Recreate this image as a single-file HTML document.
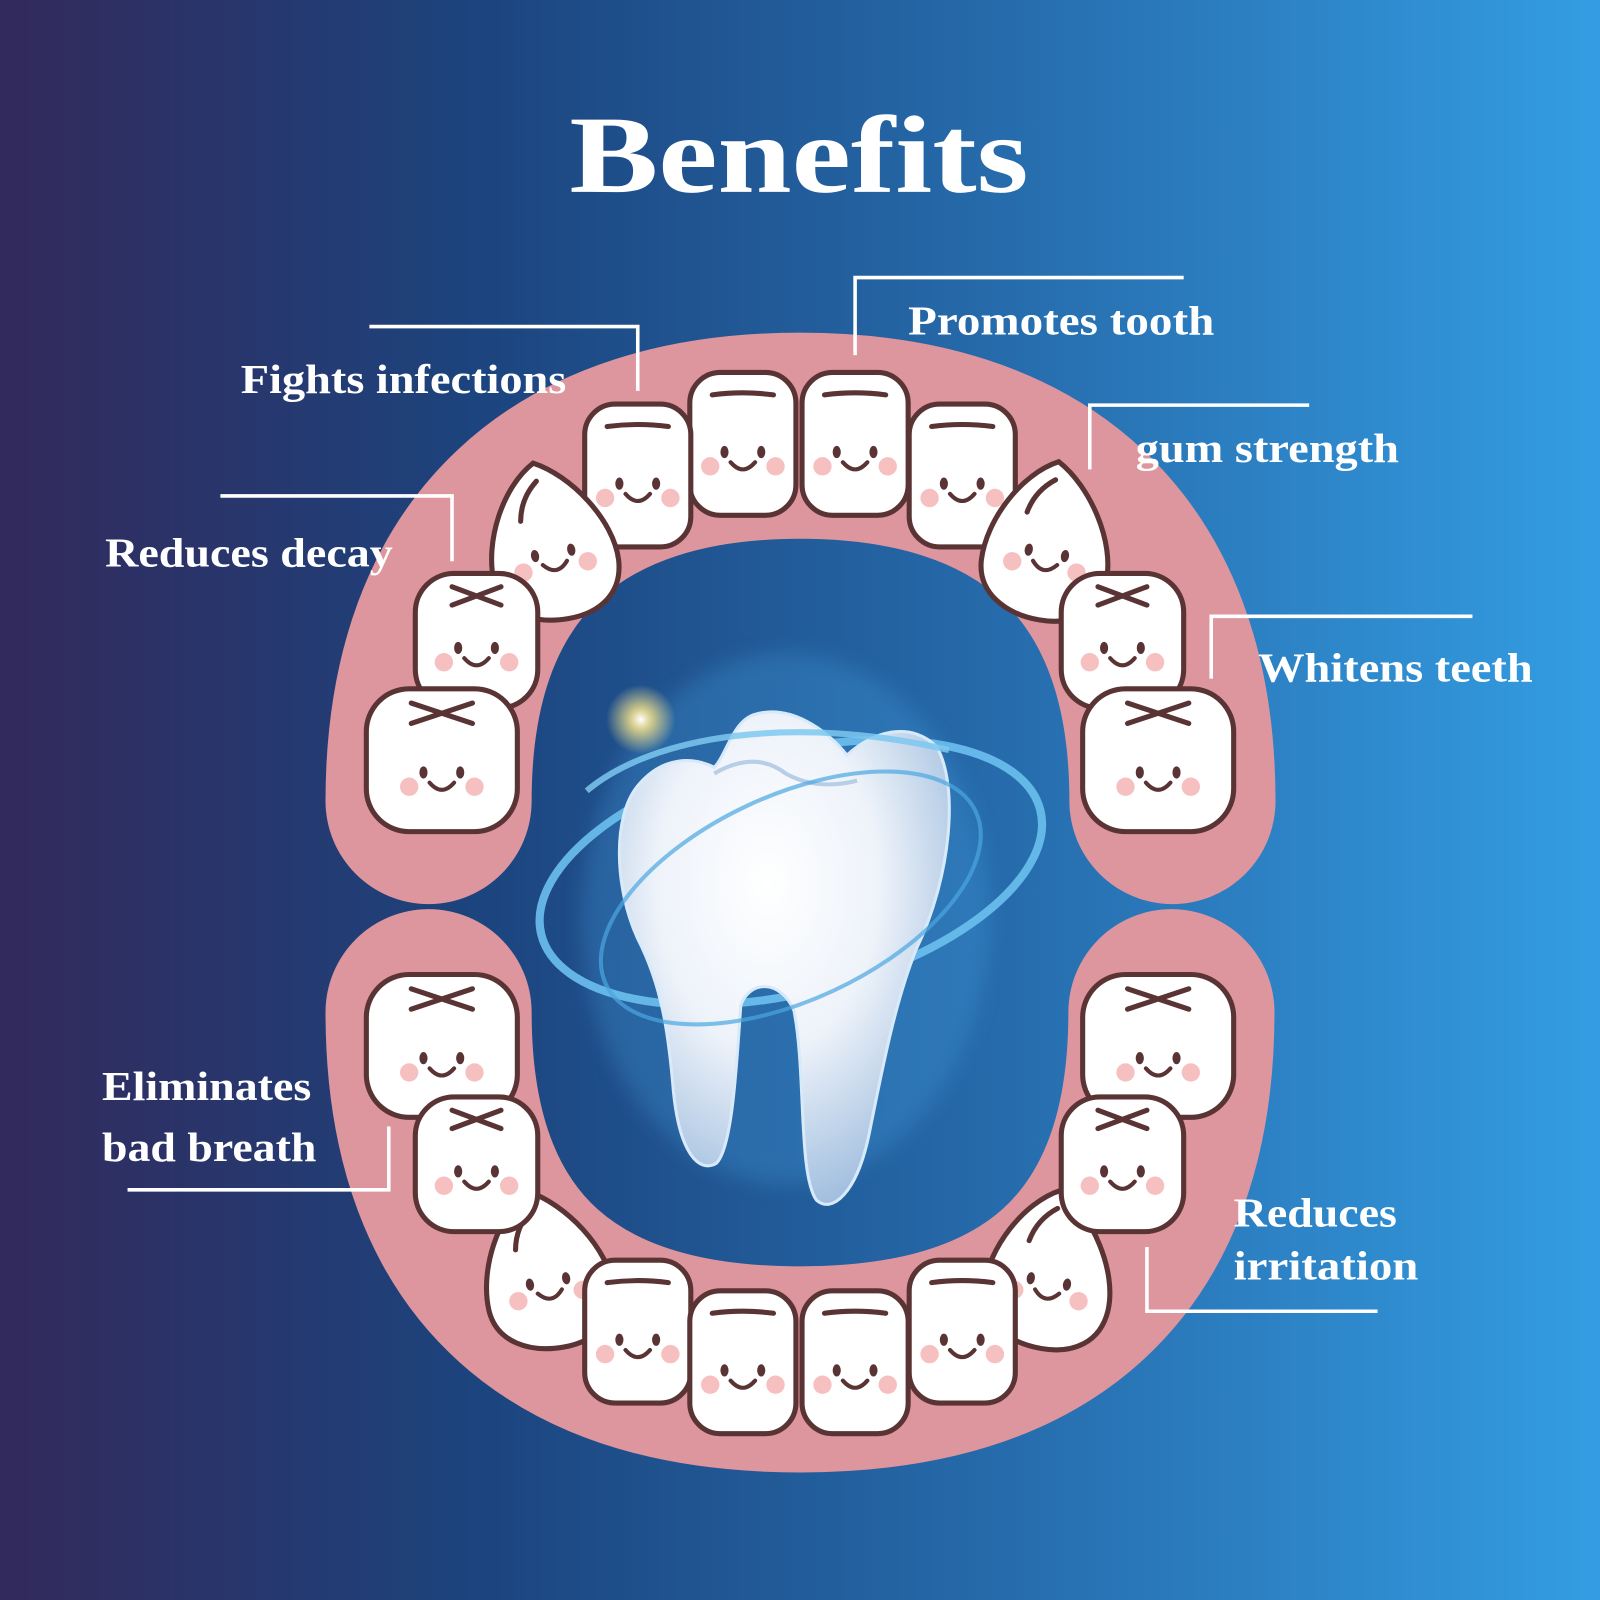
<!DOCTYPE html>
<html><head><meta charset="utf-8"><style>html,body{margin:0;padding:0;width:1600px;height:1600px;overflow:hidden}svg{display:block}</style></head>
<body>
<svg width="1600" height="1600" viewBox="0 0 1568 1568" xmlns="http://www.w3.org/2000/svg">
<defs>
<linearGradient id="bg" x1="0" y1="0" x2="1" y2="0">
<stop offset="0" stop-color="#33295b"/><stop offset="0.3" stop-color="#1c447e"/><stop offset="0.6" stop-color="#2568a8"/><stop offset="1" stop-color="#349de2"/>
</linearGradient>
<radialGradient id="tg" cx="0.45" cy="0.35" r="0.75">
<stop offset="0" stop-color="#ffffff"/><stop offset="0.45" stop-color="#eef3fa"/><stop offset="1" stop-color="#8fb2d8"/>
</radialGradient>
<radialGradient id="glow" cx="0.5" cy="0.5" r="0.5">
<stop offset="0" stop-color="#ffffff"/><stop offset="0.3" stop-color="#ffe98a" stop-opacity="0.8"/><stop offset="1" stop-color="#ffe98a" stop-opacity="0"/>
</radialGradient>
<filter id="blur"><feGaussianBlur stdDeviation="10"/></filter>
<g id="face">
<ellipse cx="-18" cy="8" rx="4" ry="6" fill="#5a3434"/>
<ellipse cx="18" cy="8" rx="4" ry="6" fill="#5a3434"/>
<path d="M-12,18 Q0,32 12,18" fill="none" stroke="#5a3434" stroke-width="4" stroke-linecap="round"/>
<circle cx="-32" cy="22" r="9" fill="#f6c0c0"/>
<circle cx="32" cy="22" r="9" fill="#f6c0c0"/>
</g>
<g id="inc">
<rect x="-52" y="-70" width="104" height="140" rx="30" fill="#fff" stroke="#5a3434" stroke-width="5"/>
<path d="M-30,-48 Q0,-52 30,-48" fill="none" stroke="#5a3434" stroke-width="5" stroke-linecap="round"/>
<use href="#face"/>
</g>
<g id="mol">
<rect x="-60" y="-65" width="120" height="132" rx="38" fill="#fff" stroke="#5a3434" stroke-width="5"/>
<path d="M-24,-52 L24,-34 M-24,-34 L24,-52" fill="none" stroke="#5a3434" stroke-width="5" stroke-linecap="round"/>
<use href="#face"/>
</g>
<g id="bmol">
<rect x="-74" y="-70" width="148" height="140" rx="42" fill="#fff" stroke="#5a3434" stroke-width="5"/>
<path d="M-30,-56 L30,-36 M-30,-36 L30,-56" fill="none" stroke="#5a3434" stroke-width="5" stroke-linecap="round"/>
<use href="#face" transform="translate(0,4)"/>
</g>
<g id="can">
<path d="M-4,-78 C30,-60 64,-10 62,30 C60,62 36,78 4,78 C-30,78 -60,62 -62,30 C-64,-10 -38,-60 -4,-78 Z" fill="#fff" stroke="#5a3434" stroke-width="5"/>
<path d="M-26,-24 Q-22,-46 -4,-60" fill="none" stroke="#5a3434" stroke-width="5" stroke-linecap="round"/>
<use href="#face" transform="translate(0,4)"/>
</g>
</defs>
<rect width="1568" height="1568" fill="url(#bg)"/>
<text x="558" y="188" textLength="450" lengthAdjust="spacingAndGlyphs" font-family="Liberation Serif, serif" font-weight="bold" font-size="108" fill="#fff">Benefits</text>

<path d="M420,785 C420,540 560,427 784,427 C1008,427 1149,540 1149,785" fill="none" stroke="#dd969e" stroke-width="202" stroke-linecap="round"/>
<path d="M420,992 C420,1240 560,1342 784,1342 C1008,1342 1148,1240 1148,992" fill="none" stroke="#dd969e" stroke-width="202" stroke-linecap="round"/>

<!-- upper teeth -->
<use href="#inc" x="728" y="435"/>
<use href="#inc" x="838" y="435"/>
<use href="#inc" x="625" y="466"/>
<use href="#inc" x="943" y="466"/>
<use href="#can" transform="translate(540,530) rotate(-10)"/>
<use href="#can" transform="translate(1028,530) rotate(10)"/>
<use href="#mol" x="467" y="627"/>
<use href="#mol" x="1100" y="627"/>
<use href="#bmol" x="433" y="745"/>
<use href="#bmol" x="1135" y="745"/>
<!-- lower teeth -->
<use href="#bmol" x="433" y="1025"/>
<use href="#bmol" x="1135" y="1025"/>
<use href="#can" transform="translate(535,1244) rotate(-10)"/>
<use href="#can" transform="translate(1030,1244) rotate(10)"/>
<use href="#mol" x="467" y="1140"/>
<use href="#mol" x="1100" y="1140"/>
<use href="#inc" x="625" y="1305"/>
<use href="#inc" x="943" y="1305"/>
<use href="#inc" x="728" y="1335"/>
<use href="#inc" x="838" y="1335"/>

<!-- central tooth -->
<ellipse cx="770" cy="900" rx="200" ry="260" fill="#4aa8e8" opacity="0.25" filter="url(#blur)"/>
<ellipse cx="775" cy="855" rx="252" ry="118" transform="rotate(-14 775 855)" fill="none" stroke="#6cc0ee" stroke-width="8" opacity="0.9"/>
<path d="M625,770 C600,800 602,870 625,920 C648,965 655,1010 660,1070 C666,1130 685,1150 702,1140 C718,1125 722,1040 726,985 C735,960 765,960 778,990 C790,1050 782,1150 800,1176 C815,1190 840,1170 852,1110 C866,1040 878,980 898,930 C932,860 940,770 918,732 C895,708 858,714 830,740 C810,715 775,690 740,700 C718,706 712,740 700,752 C680,742 650,740 625,770 Z" fill="url(#tg)" stroke="#d8eafa" stroke-width="3"/>
<path d="M700,758 Q740,735 770,758 Q800,775 840,765" fill="none" stroke="#b8cde6" stroke-width="4"/>
<path d="M575,775 C640,720 780,700 930,735" fill="none" stroke="#7cc8f0" stroke-width="6" opacity="0.85"/>
<ellipse cx="775" cy="880" rx="200" ry="100" transform="rotate(-25 775 880)" fill="none" stroke="#4aa6e0" stroke-width="4" opacity="0.7"/>
<circle cx="628" cy="705" r="34" fill="url(#glow)"/>

<!-- labels -->
<g fill="none" stroke="#fff" stroke-width="3.5">
<path d="M362,320 H625 V383"/>
<path d="M216,486 H443 V550"/>
<path d="M838,348 V272 H1160"/>
<path d="M1068,460 V397 H1283"/>
<path d="M1187,665 V604 H1443"/>
<path d="M125,1166 H381 V1104"/>
<path d="M1124,1222 V1285 H1350"/>
</g>
<g font-family="Liberation Serif, serif" font-weight="bold" font-size="40" fill="#fff" lengthAdjust="spacingAndGlyphs">
<text x="236" y="385" textLength="319" lengthAdjust="spacingAndGlyphs">Fights infections</text>
<text x="103" y="555" textLength="282" lengthAdjust="spacingAndGlyphs">Reduces decay</text>
<text x="890" y="328" textLength="300" lengthAdjust="spacingAndGlyphs">Promotes tooth</text>
<text x="1113" y="453" textLength="258" lengthAdjust="spacingAndGlyphs">gum strength</text>
<text x="1233" y="668" textLength="269" lengthAdjust="spacingAndGlyphs">Whitens teeth</text>
<text x="100" y="1078" textLength="205" lengthAdjust="spacingAndGlyphs">Eliminates</text>
<text x="100" y="1138" textLength="210" lengthAdjust="spacingAndGlyphs">bad breath</text>
<text x="1209" y="1202" textLength="160" lengthAdjust="spacingAndGlyphs">Reduces</text>
<text x="1209" y="1254" textLength="181" lengthAdjust="spacingAndGlyphs">irritation</text>
</g>
</svg>
</body></html>
